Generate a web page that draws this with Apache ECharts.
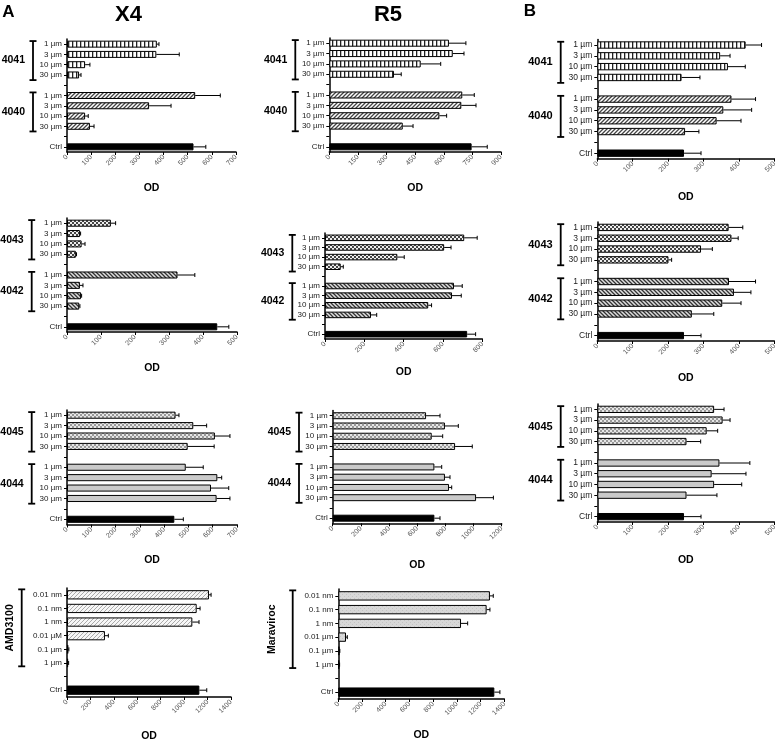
<!DOCTYPE html>
<html><head><meta charset="utf-8">
<script src="https://cdn.jsdelivr.net/npm/echarts@6/dist/echarts.min.js"></script>
<style>html,body{margin:0;padding:0;background:#fff}#c{width:778px;height:742px}</style>
</head><body><div id="c"></div>
<script>
// ---------------- DATA ----------------
const catsConc = ["1 µm","3 µm","10 µm","30 µm","","1 µm","3 µm","10 µm","30 µm","","Ctrl"];
const catsAMD  = ["0.01 nm","0.1 nm","1 nm","0.01 µM","0.1 µm","1 µm","","Ctrl"];
const catsMVC  = ["0.01 nm","0.1 nm","1 nm","0.01 µm","0.1 µm","1 µm","","Ctrl"];

// A: X4
const x4_4041 = [372, 370, 75, 50],   x4_4041_err = [9, 95, 20, 8];
const x4_4040 = [531, 340, 75, 95],   x4_4040_err = [104, 91, 13, 17];
const x4_4043 = [129, 38, 43, 26],    x4_4043_err = [14, 2, 10, 2];
const x4_4042 = [325, 38, 41, 36],    x4_4042_err = [51, 9, 2, 2];
const x4_4045 = [447, 520, 609, 497], x4_4045_err = [14, 55, 62, 109];
const x4_4044 = [489, 619, 593, 616], x4_4044_err = [72, 18, 73, 55];
const x4_amd  = [1212, 1107, 1070, 324, 12, 10], x4_amd_err = [18, 29, 57, 29, 4, 4];
const x4_ctrl = [524, 442, 442, 1130], x4_ctrl_err = [51, 34, 37, 63];

// A: R5
const r5_4041 = [627, 647, 479, 339], r5_4041_err = [89, 59, 105, 38];
const r5_4040 = [697, 692, 577, 385], r5_4040_err = [63, 77, 38, 54];
const r5_4043 = [708, 606, 368, 80],  r5_4043_err = [66, 35, 35, 13];
const r5_4042 = [656, 646, 525, 234], r5_4042_err = [42, 47, 17, 29];
const r5_4045 = [663, 797, 703, 869], r5_4045_err = [99, 95, 78, 122];
const r5_4044 = [722, 797, 826, 1018], r5_4044_err = [52, 36, 19, 123];
const r5_mvc  = [1279, 1251, 1035, 65, 10, 8], r5_mvc_err = [28, 28, 56, 11, 3, 3];
const r5_ctrl = [746, 723, 722, 1316], r5_ctrl_err = [82, 43, 40, 47];

// B
const b_4041 = [419, 347, 369, 238], b_4041_err = [45, 28, 49, 52];
const b_4040 = [379, 356, 337, 248], b_4040_err = [68, 80, 69, 39];
const b_4043 = [371, 379, 293, 201], b_4043_err = [40, 19, 32, 9];
const b_4042 = [372, 386, 353, 267], b_4042_err = [75, 48, 53, 62];
const b_4045 = [330, 354, 309, 252], b_4045_err = [28, 21, 31, 40];
const b_4044 = [345, 323, 330, 252], b_4044_err = [86, 97, 78, 86];
const b_ctrl = [245, 245, 245], b_ctrl_err = [48, 48, 48];

// ---------------- PATTERNS ----------------
function pat(kind){
  const c = document.createElement('canvas');
  const g = c.getContext('2d');
  const s = 4; c.width = s; c.height = s;
  function diag(bg, fg, lw, back){
    g.fillStyle = bg; g.fillRect(0,0,s,s);
    g.strokeStyle = fg; g.lineWidth = lw; g.beginPath();
    if(!back){
      g.moveTo(0,s); g.lineTo(s,0);
      g.moveTo(-s/2,s/2); g.lineTo(s/2,-s/2);
      g.moveTo(s/2,s*1.5); g.lineTo(s*1.5,s/2);
    } else {
      g.moveTo(0,0); g.lineTo(s,s);
      g.moveTo(-s/2,s/2); g.lineTo(s/2,s*1.5);
      g.moveTo(s/2,-s/2); g.lineTo(s*1.5,s/2);
    }
    g.stroke();
  }
  switch(kind){
    case 'vstripe':
      g.fillStyle='#fff'; g.fillRect(0,0,s,s);
      g.fillStyle='#222'; g.fillRect(0,0,1.3,s); break;
    case 'slash': diag('#fff','#444',1.3,false); break;
    case 'back': diag('#e0e0e0','#333',1.3,true); break;
    case 'checker':
      g.fillStyle='#444'; g.fillRect(0,0,s,s);
      g.fillStyle='#eee'; g.fillRect(0,0,2,2); g.fillRect(2,2,2,2); break;
    case 'lightchecker':
      g.fillStyle='#999'; g.fillRect(0,0,s,s);
      g.fillStyle='#e6e6e6'; g.fillRect(0,0,2,2); g.fillRect(2,2,2,2); break;
    case 'lightslash': diag('#f6f6f6','#aaa',1,false); break;
    case 'grey':
      g.fillStyle='#cacaca'; g.fillRect(0,0,s,s); break;
    case 'greydot':
      g.fillStyle='#d8d8d8'; g.fillRect(0,0,s,s);
      g.fillStyle='#c4c4c4'; g.fillRect(0,0,1,1); g.fillRect(2,2,1,1); break;
  }
  return {image:c, repeat:'repeat'};
}

// ---------------- PANELS ----------------
const FONT = '"Liberation Sans", Arial, sans-serif';
const panels = [
  {left:67, top:39, width:169, height:113, max:700, interval:100, cats:catsConc, odY:188, br:34, fs:8, gfs:10.5,
   groups:[{label:'4041', vals:x4_4041, err:x4_4041_err, from:0, fill:'vstripe'},{label:'4040', vals:x4_4040, err:x4_4040_err, from:5, fill:'slash'}],
   ctrl:x4_ctrl[0], ctrlErr:x4_ctrl_err[0]},
  {left:329.3, top:38, width:171.7, height:114, max:900, interval:150, cats:catsConc, odY:188, br:34, fs:8, gfs:10.5,
   groups:[{label:'4041', vals:r5_4041, err:r5_4041_err, from:0, fill:'vstripe'},{label:'4040', vals:r5_4040, err:r5_4040_err, from:5, fill:'slash'}],
   ctrl:r5_ctrl[0], ctrlErr:r5_ctrl_err[0]},
  {left:597.3, top:39.6, width:177, height:119, max:500, interval:100, cats:catsConc, odY:197, br:36.6, fs:8.5, gfs:11,
   groups:[{label:'4041', vals:b_4041, err:b_4041_err, from:0, fill:'vstripe'},{label:'4040', vals:b_4040, err:b_4040_err, from:5, fill:'slash'}],
   ctrl:b_ctrl[0], ctrlErr:b_ctrl_err[0]},
  {left:67, top:218, width:170, height:114, max:500, interval:100, cats:catsConc, odY:368, br:35.3, fs:8, gfs:10.5,
   groups:[{label:'4043', vals:x4_4043, err:x4_4043_err, from:0, fill:'checker'},{label:'4042', vals:x4_4042, err:x4_4042_err, from:5, fill:'back'}],
   ctrl:x4_ctrl[1], ctrlErr:x4_ctrl_err[1]},
  {left:325, top:233, width:157.3, height:106, max:800, interval:200, cats:catsConc, odY:372, br:32.7, fs:8, gfs:10.5,
   groups:[{label:'4043', vals:r5_4043, err:r5_4043_err, from:0, fill:'checker'},{label:'4042', vals:r5_4042, err:r5_4042_err, from:5, fill:'back'}],
   ctrl:r5_ctrl[1], ctrlErr:r5_ctrl_err[1]},
  {left:597.3, top:222, width:177, height:119, max:500, interval:100, cats:catsConc, odY:378, br:36.6, fs:8.5, gfs:11,
   groups:[{label:'4043', vals:b_4043, err:b_4043_err, from:0, fill:'checker'},{label:'4042', vals:b_4042, err:b_4042_err, from:5, fill:'back'}],
   ctrl:b_ctrl[1], ctrlErr:b_ctrl_err[1]},
  {left:67, top:410, width:170, height:114.5, max:700, interval:100, cats:catsConc, odY:560, br:35.3, fs:8, gfs:10.5,
   groups:[{label:'4045', vals:x4_4045, err:x4_4045_err, from:0, fill:'lightchecker'},{label:'4044', vals:x4_4044, err:x4_4044_err, from:5, fill:'grey'}],
   ctrl:x4_ctrl[2], ctrlErr:x4_ctrl_err[2]},
  {left:332.7, top:410.6, width:169, height:112.7, max:1200, interval:200, cats:catsConc, odY:565, br:33.7, fs:8, gfs:10.5,
   groups:[{label:'4045', vals:r5_4045, err:r5_4045_err, from:0, fill:'lightchecker'},{label:'4044', vals:r5_4044, err:r5_4044_err, from:5, fill:'grey'}],
   ctrl:r5_ctrl[2], ctrlErr:r5_ctrl_err[2]},
  {left:597.3, top:404, width:177, height:118, max:500, interval:100, cats:catsConc, odY:560, br:36.6, fs:8.5, gfs:11,
   groups:[{label:'4045', vals:b_4045, err:b_4045_err, from:0, fill:'lightchecker'},{label:'4044', vals:b_4044, err:b_4044_err, from:5, fill:'grey'}],
   ctrl:b_ctrl[2], ctrlErr:b_ctrl_err[2]},
  {left:67, top:588, width:164, height:109, max:1400, interval:200, cats:catsAMD, odY:736, br:45.3, fs:8, gfs:10.5, rot:57,
   groups:[{label:'AMD3100', vals:x4_amd, err:x4_amd_err, from:0, fill:'lightslash'}],
   ctrl:x4_ctrl[3], ctrlErr:x4_ctrl_err[3]},
  {left:338.3, top:589, width:166, height:110, max:1400, interval:200, cats:catsMVC, odY:735, br:45.6, fs:8, gfs:10.5, rot:66.6,
   groups:[{label:'Maraviroc', vals:r5_mvc, err:r5_mvc_err, from:0, fill:'greydot'}],
   ctrl:r5_ctrl[3], ctrlErr:r5_ctrl_err[3]}
];

// ---------------- BUILD ----------------
const grids=[], xAxes=[], yAxes=[], series=[];
panels.forEach((p,i)=>{
  const n = p.cats.length;
  grids.push({left:p.left, top:p.top, width:p.width, height:p.height, containLabel:false, outerBoundsMode:'none'});
  xAxes.push({type:'value', gridIndex:i, min:0, max:p.max, interval:p.interval,
    name:'OD', nameLocation:'middle', nameGap:p.odY - 5 - (p.top + p.height),
    nameTextStyle:{fontFamily:FONT, fontWeight:'bold', fontSize:10.5, color:'#000'},
    axisLine:{show:true, lineStyle:{color:'#000', width:1.5}},
    axisTick:{show:true, length:3, lineStyle:{color:'#000', width:1}},
    axisLabel:{rotate:45, fontSize:7, color:'#555', fontFamily:FONT, margin:4, formatter:(v)=>String(v)},
    splitLine:{show:false}});
  yAxes.push({type:'category', gridIndex:i, data:p.cats, inverse:true,
    axisLine:{show:true, onZero:false, lineStyle:{color:'#000', width:1.5}},
    axisTick:{show:true, alignWithLabel:true, length:3, lineStyle:{color:'#000', width:1}},
    axisLabel:{fontSize:p.fs, color:'#222', fontFamily:FONT, margin:5, interval:0},
    splitLine:{show:false}});
  const errData = [];
  p.groups.forEach(gr=>{
    const d = new Array(n).fill('-');
    gr.vals.forEach((v,k)=>{ d[gr.from+k] = v; errData.push([v, gr.from+k, v + gr.err[k]]); });
    series.push({type:'bar', xAxisIndex:i, yAxisIndex:i, data:d, barWidth:'68%', barGap:'-100%',
      itemStyle:{color:pat(gr.fill), borderColor:'#000', borderWidth:1}, silent:true, animation:false});
  });
  const dc = new Array(n).fill('-'); dc[n-1] = p.ctrl;
  errData.push([p.ctrl, n-1, p.ctrl + p.ctrlErr]);
  series.push({type:'bar', xAxisIndex:i, yAxisIndex:i, data:dc, barWidth:'68%', barGap:'-100%',
    itemStyle:{color:'#000', borderColor:'#000', borderWidth:1}, silent:true, animation:false});
  series.push({type:'custom', xAxisIndex:i, yAxisIndex:i, data:errData, encode:{x:[0,2], y:1}, z:5,
    silent:true, animation:false,
    renderItem:(params, api)=>{
      const y = api.value(1);
      const a = api.coord([api.value(0), y]);
      const b = api.coord([api.value(2), y]);
      return {type:'group', children:[
        {type:'line', shape:{x1:a[0], y1:a[1], x2:b[0], y2:b[1]}, style:{stroke:'#000', lineWidth:1}},
        {type:'line', shape:{x1:b[0], y1:b[1]-2, x2:b[0], y2:b[1]+2}, style:{stroke:'#000', lineWidth:1}}
      ]};
    }});
});

const chart = echarts.init(document.getElementById('c'), null, {renderer:'canvas'});
const titleStyle = (t,x,y,fs)=>({type:'text', x:x, y:y, style:{text:t, fontFamily:FONT, fontWeight:'bold', fontSize:fs, fill:'#000', align:'center', verticalAlign:'middle'}});
chart.setOption({
  animation:false,
  backgroundColor:'#fff',
  grid:grids, xAxis:xAxes, yAxis:yAxes, series:series,
  graphic:[titleStyle('A',8.5,12,17), titleStyle('B',530,11,17), titleStyle('X4',128.5,15,22), titleStyle('R5',388,15,22)]
});

// brackets + group labels, placed from the category axis scale
const g2 = [];
panels.forEach((p,i)=>{
  const x0 = chart.convertToPixel({xAxisIndex:i}, 0);
  p.groups.forEach(gr=>{
    const last = gr.from + gr.vals.length - 1;
    const yA = chart.convertToPixel({yAxisIndex:i}, gr.from);
    const yB = chart.convertToPixel({yAxisIndex:i}, last);
    const band = (yB - yA) / (last - gr.from);
    const top = yA - (p.rot ? 0.4 : 0.3) * band;
    const bot = yB + (p.rot ? 0.25 : 0.5) * band;
    const bx = x0 - p.br;
    const ls = {stroke:'#000', lineWidth:1.8};
    g2.push({type:'line', shape:{x1:bx, y1:top, x2:bx, y2:bot}, style:ls});
    g2.push({type:'line', shape:{x1:bx-3.5, y1:top, x2:bx+3.5, y2:top}, style:ls});
    g2.push({type:'line', shape:{x1:bx-3.5, y1:bot, x2:bx+3.5, y2:bot}, style:ls});
    const mid = (top + bot) / 2;
    if (p.rot) {
      g2.push({type:'text', x:x0 - p.rot, y:mid, rotation:Math.PI/2,
        style:{text:gr.label, fontFamily:FONT, fontWeight:'bold', fontSize:p.gfs, fill:'#000', align:'center', verticalAlign:'middle'}});
    } else {
      g2.push({type:'text', x:bx - 8, y:mid,
        style:{text:gr.label, fontFamily:FONT, fontWeight:'bold', fontSize:p.gfs, fill:'#000', align:'right', verticalAlign:'middle'}});
    }
  });
});
chart.setOption({graphic:[titleStyle('A',8.5,12,17), titleStyle('B',530,11,17), titleStyle('X4',128.5,15,22), titleStyle('R5',388,15,22)].concat(g2)}, {replaceMerge:['graphic']});
</script>
</body></html>
